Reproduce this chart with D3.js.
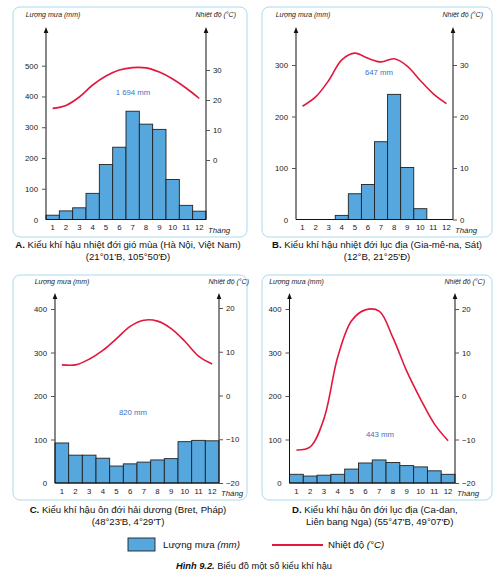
<!DOCTYPE html>
<html><head><meta charset="utf-8">
<script src="https://cdn.jsdelivr.net/npm/d3@7"></script>
<style>body{margin:0;background:#fff}svg{display:block;font-family:"Liberation Sans",Arial,sans-serif}</style>
</head><body><svg id="c" width="499" height="578"></svg>
<script>
const months = [1,2,3,4,5,6,7,8,9,10,11,12];
const rainA = [14, 28, 38, 85, 179, 235, 352, 310, 293, 130, 46, 27];
const tempA = [17.2, 18.2, 21, 25, 28, 30, 30.8, 30.7, 29.3, 27, 24, 20.5];
const rainB = [0, 0, 0, 8, 50, 68, 151, 243, 101, 21, 0, 0];
const tempB = [22, 23.8, 27, 31, 32.3, 31.3, 30.6, 31.2, 29.8, 27, 24.4, 22.5];
const rainC = [92, 64, 64, 57, 39, 44, 48, 53, 56, 95, 98, 97];
const tempC = [7, 7, 8.3, 10.3, 13, 15.8, 17.2, 17, 15.3, 12.4, 9, 7.2];
const rainD = [20, 16, 18, 20, 32, 46, 53, 47, 40, 37, 28, 20];
const tempD = [-12.4, -11.7, -5.2, 9, 17.3, 19.8, 19.5, 13.4, 5.7, -0.7, -6.4, -10.3];
const totals = ["1 694 mm", "647 mm", "820 mm", "443 mm"];
const rainTicksA = [0,100,200,300,400,500], tempTicksA = [0,10,20,30];
const rainTicksB = [0,100,200,300], tempTicksB = [0,10,20,30];
const rainTicksC = [0,100,200,300,400], tempTicksC = [-20,-10,0,10,20];
const rainTicksD = [0,100,200,300,400], tempTicksD = [-20,-10,0,10,20];
const captions = [
  ["A.", " Kiểu khí hậu nhiệt đới gió mùa (Hà Nội, Việt Nam)", "(21°01'B, 105°50'Đ)"],
  ["B.", " Kiểu khí hậu nhiệt đới lục địa (Gia-mê-na, Sát)", "(12°B, 21°25'Đ)"],
  ["C.", " Kiểu khí hậu ôn đới hải dương (Bret, Pháp)", "(48°23'B, 4°29'T)"],
  ["D.", " Kiểu khí hậu ôn đới lục địa (Ca-dan,", "Liên bang Nga) (55°47'B, 49°07'Đ)"]
];

const svg = d3.select("#c");
const RED = "#e3173e", BLUE = "#55a7dd";

const panels = [
  {rain: rainA, temp: tempA, rt: rainTicksA, tt: tempTicksA, rd:[0,500], rr:[219.5,65.7], td:[0,30], tr:[160,70],
   x0:46, x1:206, top:28, lab:17, box:[13,7,234,230], total:[133,95], cap:[128,248,128,260,"middle"]},
  {rain: rainB, temp: tempB, rt: rainTicksB, tt: tempTicksB, rd:[0,300], rr:[219.5,65], td:[0,30], tr:[219.5,65],
   x0:296, x1:453, top:28, lab:17, box:[262,7,230,230], total:[379,75], cap:[377,248,377,260,"middle"]},
  {rain: rainC, temp: tempC, rt: rainTicksC, tt: tempTicksC, rd:[0,400], rr:[483,309], td:[-20,20], tr:[483,308],
   x0:55, x1:219, top:294, lab:284, box:[13,275,234,225], total:[133,415], cap:[128,513,128,525,"middle"]},
  {rain: rainD, temp: tempD, rt: rainTicksD, tt: tempTicksD, rd:[0,400], rr:[483,309], td:[-20,20], tr:[483,309],
   x0:289.5, x1:455, top:294, lab:284, box:[262,275,230,225], total:[380,437], cap:[292,513,306,525,"start"]}
];

panels.forEach((p, i) => {
  const g = svg.append("g");
  g.append("rect").attr("x", p.box[0]).attr("y", p.box[1]).attr("width", p.box[2]).attr("height", p.box[3])
    .attr("rx", 7).attr("fill", "none").attr("stroke", "#a9daee").attr("stroke-width", 1);

  const x = d3.scaleBand().domain(months).range([p.x0, p.x1]).padding(0);
  const yR = d3.scaleLinear().domain(p.rd).range(p.rr);
  const yT = d3.scaleLinear().domain(p.td).range(p.tr);
  const base = yR(0);

  g.selectAll(".bar").data(months.map((m, k) => ({m, v: p.rain[k]})).filter(d => d.v > 0)).join("rect")
    .attr("x", d => x(d.m)).attr("y", d => yR(d.v)).attr("width", x.bandwidth()).attr("height", d => base - yR(d.v))
    .attr("fill", BLUE).attr("stroke", "#222").attr("stroke-width", 0.9);

  const axG = g.append("g").attr("stroke", "#111").attr("stroke-width", 1);
  axG.append("line").attr("x1", p.x0).attr("x2", p.x0).attr("y1", base).attr("y2", p.top + 3);
  axG.append("line").attr("x1", p.x1).attr("x2", p.x1).attr("y1", base).attr("y2", p.top + 3);
  axG.append("line").attr("x1", p.x0).attr("x2", p.x1).attr("y1", base).attr("y2", base);
  [p.x0, p.x1].forEach(ax => {
    g.append("path").attr("d", `M${ax - 2.3},${p.top + 5}L${ax},${p.top - 1}L${ax + 2.3},${p.top + 5}Z`).attr("fill", "#111");
  });

  const la = d3.axisLeft(yR).tickValues(p.rt).tickSize(4).tickPadding(4);
  const lg = g.append("g").attr("transform", `translate(${p.x0},0)`).call(la);
  lg.select(".domain").remove();
  lg.selectAll(".tick line").attr("stroke", "#555");
  lg.selectAll(".tick").filter(d => d === 0).select("line").remove();
  lg.selectAll("text").attr("font-size", 7.8).attr("fill", "#222").attr("font-family", "Liberation Sans, Arial");

  const ra = d3.axisRight(yT).tickValues(p.tt).tickSize(4).tickPadding(3).tickFormat(d => d < 0 ? "\u2212" + Math.abs(d) : d);
  const rg = g.append("g").attr("transform", `translate(${p.x1},0)`).call(ra);
  rg.select(".domain").remove();
  rg.selectAll(".tick line").attr("stroke", "#555");
  rg.selectAll("text").attr("font-size", 7.8).attr("fill", "#222").attr("font-family", "Liberation Sans, Arial");

  const ba = d3.axisBottom(x).tickSize(0).tickPadding(5);
  const bg = g.append("g").attr("transform", `translate(0,${base})`).call(ba);
  bg.select(".domain").remove();
  bg.selectAll("text").attr("font-size", 7.8).attr("fill", "#222").attr("font-family", "Liberation Sans, Arial");
  g.append("text").attr("x", p.x1 + 2).attr("y", base + 13).attr("font-size", 7.8).attr("font-style", "italic")
    .attr("fill", "#222").text("Tháng");

  g.append("text").attr("x", p.x0 + 7).attr("y", p.lab).attr("text-anchor", "middle").attr("font-size", 7)
    .attr("font-style", "italic").attr("fill", "#222").text("Lượng mưa (mm)");
  g.append("text").attr("x", p.x1 + 30).attr("y", p.lab).attr("text-anchor", "end").attr("font-size", 7)
    .attr("font-style", "italic").attr("fill", "#222").text("Nhiệt độ (°C)");

  const line = d3.line().x((d, k) => x(months[k]) + x.bandwidth() / 2).y(d => yT(d)).curve(d3.curveCatmullRom.alpha(0.5));
  g.append("path").attr("d", line(p.temp)).attr("fill", "none").attr("stroke", RED).attr("stroke-width", 1.6);

  g.append("text").attr("x", p.total[0]).attr("y", p.total[1]).attr("text-anchor", "middle").attr("font-size", 7.8)
    .attr("fill", "#3d72c2").text(totals[i]);

  const c = captions[i];
  const t1 = g.append("text").attr("x", p.cap[0]).attr("y", p.cap[1]).attr("text-anchor", p.cap[4])
    .attr("font-size", 9.6).attr("fill", "#111");
  t1.append("tspan").attr("font-weight", "bold").text(c[0]);
  t1.append("tspan").text(c[1]);
  g.append("text").attr("x", p.cap[2]).attr("y", p.cap[3]).attr("text-anchor", p.cap[4])
    .attr("font-size", 9.6).attr("fill", "#111").text(c[2]);
});

svg.append("rect").attr("x", 128).attr("y", 538).attr("width", 27).attr("height", 13)
  .attr("fill", BLUE).attr("stroke", "#222").attr("stroke-width", 0.9);
const l1 = svg.append("text").attr("x", 163).attr("y", 548).attr("font-size", 9.7).attr("fill", "#111");
l1.append("tspan").text("Lượng mưa ");
l1.append("tspan").attr("font-style", "italic").text("(mm)");
svg.append("line").attr("x1", 272).attr("x2", 323).attr("y1", 545).attr("y2", 545).attr("stroke", RED).attr("stroke-width", 1.8);
const l2 = svg.append("text").attr("x", 328).attr("y", 548).attr("font-size", 9.7).attr("fill", "#111");
l2.append("tspan").text("Nhiệt độ ");
l2.append("tspan").attr("font-style", "italic").text("(°C)");
const ft = svg.append("text").attr("x", 254).attr("y", 569).attr("text-anchor", "middle").attr("font-size", 9.3).attr("fill", "#111");
ft.append("tspan").attr("font-weight", "bold").attr("font-style", "italic").text("Hình 9.2.");
ft.append("tspan").text(" Biểu đồ một số kiểu khí hậu");
</script></body></html>
